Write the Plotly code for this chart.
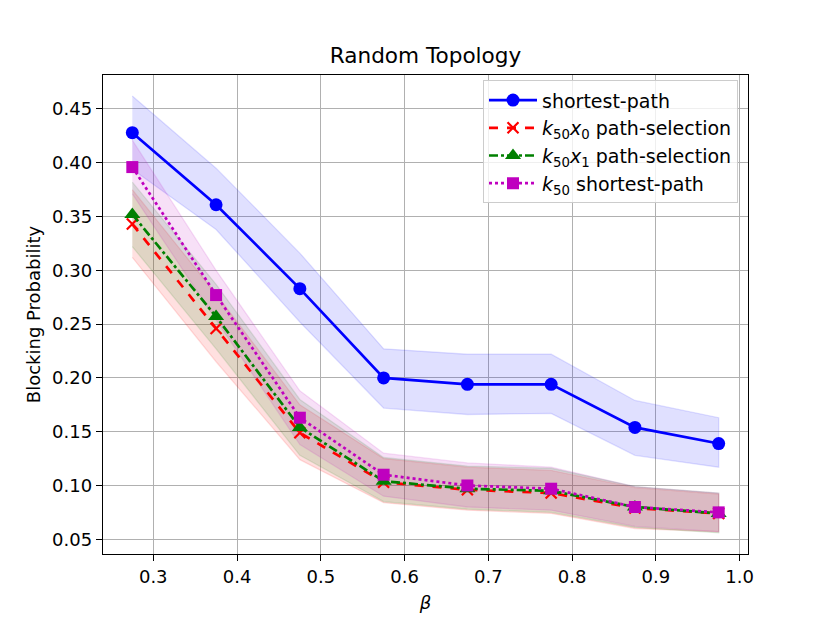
import plotly.graph_objects as go

beta = [0.275, 0.375, 0.475, 0.575, 0.675, 0.775, 0.875, 0.975]

sp_mean = [0.428, 0.361, 0.283, 0.200, 0.194, 0.194, 0.154, 0.139]
sp_upper = [0.462, 0.395, 0.316, 0.227, 0.222, 0.222, 0.179, 0.163]
sp_lower = [0.394, 0.338, 0.252, 0.172, 0.166, 0.167, 0.128, 0.117]

k50x0_mean = [0.343, 0.246, 0.149, 0.103, 0.096, 0.093, 0.079, 0.074]
k50x0_upper = [0.375, 0.278, 0.175, 0.125, 0.117, 0.114, 0.098, 0.092]
k50x0_lower = [0.312, 0.215, 0.124, 0.084, 0.077, 0.074, 0.060, 0.057]

k50x1_mean = [0.352, 0.257, 0.154, 0.104, 0.097, 0.095, 0.080, 0.074]
k50x1_upper = [0.382, 0.287, 0.180, 0.126, 0.118, 0.116, 0.099, 0.093]
k50x1_lower = [0.322, 0.227, 0.128, 0.085, 0.078, 0.075, 0.061, 0.056]

k50sp_mean = [0.396, 0.277, 0.163, 0.110, 0.100, 0.097, 0.080, 0.075]
k50sp_upper = [0.421, 0.300, 0.188, 0.130, 0.121, 0.117, 0.099, 0.093]
k50sp_lower = [0.371, 0.254, 0.138, 0.090, 0.080, 0.077, 0.062, 0.057]

x_ticks = [0.3, 0.4, 0.5, 0.6, 0.7, 0.8, 0.9, 1.0]
y_ticks = [0.05, 0.10, 0.15, 0.20, 0.25, 0.30, 0.35, 0.40, 0.45]

series = [
    dict(name="shortest-path", mean=sp_mean, up=sp_upper, lo=sp_lower,
         rgb=(0, 0, 255), dash="solid", symbol="circle", msize=13),
    dict(name="<i>k</i><sub>50</sub><i>x</i><sub>0</sub> path-selection",
         mean=k50x0_mean, up=k50x0_upper, lo=k50x0_lower,
         rgb=(255, 0, 0), dash="dash", symbol="x-thin", msize=11),
    dict(name="<i>k</i><sub>50</sub><i>x</i><sub>1</sub> path-selection",
         mean=k50x1_mean, up=k50x1_upper, lo=k50x1_lower,
         rgb=(0, 128, 0), dash="dashdot", symbol="triangle-up", msize=14),
    dict(name="<i>k</i><sub>50</sub> shortest-path",
         mean=k50sp_mean, up=k50sp_upper, lo=k50sp_lower,
         rgb=(191, 0, 191), dash="dot", symbol="square", msize=12),
]

fig = go.Figure()

# shaded bands first (below lines)
for s in series:
    r, g, b = s["rgb"]
    fig.add_trace(go.Scatter(
        x=beta + beta[::-1],
        y=s["up"] + s["lo"][::-1],
        fill="toself",
        fillcolor=f"rgba({r},{g},{b},0.12)",
        line=dict(color=f"rgba({r},{g},{b},0.12)", width=1.3),
        mode="lines",
        showlegend=False,
        hoverinfo="skip",
    ))

for s in series:
    r, g, b = s["rgb"]
    col = f"rgb({r},{g},{b})"
    marker = dict(symbol=s["symbol"], size=s["msize"], color=col)
    if s["symbol"] == "x-thin":
        marker["line"] = dict(color=col, width=2.2)
    fig.add_trace(go.Scatter(
        x=beta, y=s["mean"], name=s["name"], mode="lines+markers",
        line=dict(color=col, width=2.7, dash=s["dash"]),
        marker=marker,
    ))

font_family = "DejaVu Sans"
fig.update_layout(
    width=830, height=623,
    margin=dict(l=95, r=90, t=67, b=77),
    paper_bgcolor="white", plot_bgcolor="white",
    font=dict(family=font_family, size=18, color="black"),
    title=dict(text="Random Topology", x=0.5, xref="paper", xanchor="center",
               y=1 - 47 / 623, yref="container", yanchor="middle",
               font=dict(size=21.6, family=font_family, color="black")),
    legend=dict(x=0.9845, y=0.989, xanchor="right", yanchor="top",
                bgcolor="rgba(255,255,255,0.8)", bordercolor="#cccccc",
                borderwidth=1, font=dict(size=19, family=font_family),
                tracegroupgap=4, itemwidth=48),
    showlegend=True,
)

fig.update_xaxes(
    range=[0.24, 1.01], tickvals=x_ticks, tickformat=".1f",
    showgrid=True, gridcolor="#b0b0b0", gridwidth=1.4,
    showline=True, linecolor="black", linewidth=1.4, mirror=True,
    ticks="outside", ticklen=6, tickwidth=1.4, tickcolor="black",
    zeroline=False,
    title=dict(text="<i>β</i>", standoff=10, font=dict(size=18)),
)
fig.update_yaxes(
    range=[0.0363, 0.4816], tickvals=y_ticks, tickformat=".2f",
    showgrid=True, gridcolor="#b0b0b0", gridwidth=1.4,
    showline=True, linecolor="black", linewidth=1.4, mirror=True,
    ticks="outside", ticklen=6, tickwidth=1.4, tickcolor="black",
    zeroline=False,
    title=dict(text="Blocking Probability", standoff=6, font=dict(size=18)),
)

fig.write_html("out.html")
